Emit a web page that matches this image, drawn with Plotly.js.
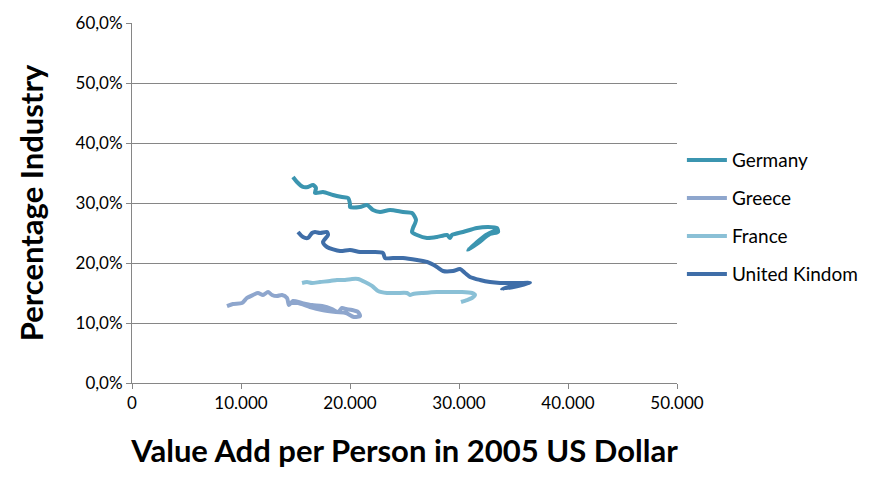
<!DOCTYPE html>
<html>
<head>
<meta charset="utf-8">
<script src="https://cdn.plot.ly/plotly-3.0.1.min.js"></script>
<style>html,body{margin:0;padding:0;background:#fff;}#chart{width:870px;height:491px;}</style>
</head>
<body>
<div id="chart"></div>
<script>
// Value added per person (2005 US$) and industry share
const germanyX = [14771,15138,15688,16147,16606,16881,16789,17523,18440,19266,19817,20000,20000,20917,21560,22110,22752,23670,24862,25688,26055,25780,25688,26147,27064,27982,28899,29174,29358,30367,31651,32661,33486,33578,32844,31743,30826,31560,32477,33394];
const germanyY = [0.3433,0.335,0.3267,0.3267,0.33,0.325,0.3167,0.3183,0.3133,0.31,0.3083,0.2983,0.2933,0.2933,0.2967,0.2883,0.285,0.2883,0.285,0.2833,0.2717,0.2583,0.2517,0.2467,0.2417,0.2433,0.2467,0.2417,0.2467,0.2517,0.2583,0.26,0.2583,0.2517,0.2483,0.2333,0.2217,0.2333,0.2467,0.255];

const greeceX = [8716,9266,10092,10550,11101,11560,12018,12477,12844,13303,13761,14220,14404,14771,15596,16514,17431,18349,18900,19266,19633,20183,20734,20917,20367,19633,18716,17431,16330,15229,14679];
const greeceY = [0.1283,0.1317,0.1333,0.1417,0.1467,0.15,0.1467,0.1517,0.1467,0.145,0.1467,0.1417,0.13,0.1367,0.1333,0.13,0.1283,0.1233,0.1183,0.125,0.1233,0.1217,0.1183,0.1117,0.11,0.1167,0.1183,0.1217,0.1267,0.1333,0.1333];

const franceX = [15596,16055,16514,17248,18165,18807,19541,20183,20734,21376,22018,22569,23394,24312,25229,25505,25780,26697,27982,29174,30275,31193,31468,31193,30734,30183];
const franceY = [0.1667,0.1683,0.1667,0.1683,0.17,0.1717,0.1717,0.1733,0.1733,0.1683,0.1617,0.1533,0.15,0.15,0.15,0.1467,0.1483,0.15,0.1517,0.1517,0.1517,0.15,0.1467,0.1417,0.1383,0.135];

const ukX = [15229,15688,16147,16514,16789,17248,17890,17982,17523,17890,19083,20000,20917,22110,23028,23211,23945,24862,26147,27064,27982,28532,29450,30092,30550,31009,31927,32844,33761,34679,35596,36514,35413,33945,34862,35963];
const ukY = [0.2517,0.2433,0.2417,0.25,0.2517,0.25,0.2517,0.2467,0.235,0.2267,0.22,0.2217,0.2183,0.2183,0.2167,0.2083,0.2083,0.2083,0.205,0.2017,0.1933,0.1867,0.1867,0.19,0.1833,0.1767,0.1717,0.1683,0.1667,0.1667,0.1667,0.1667,0.1617,0.1567,0.1617,0.165];

const seriesNames = ["Germany","Greece","France","United Kindom"];
const seriesColors = ["#3b95b0","#8ea6cd","#8ac0d6","#3f6ea8"];
const xTitle = "Value Add per Person in 2005 US Dollar";
const yTitle = "Percentage Industry";

const xs = [germanyX, greeceX, franceX, ukX];
const ys = [germanyY, greeceY, franceY, ukY];

const traces = seriesNames.map((n,i)=>({
  type:'scatter', mode:'lines', name:n, x:xs[i], y:ys[i],
  legendgroup:'g'+i,
  line:{color:seriesColors[i], width:4, shape:'spline', smoothing:0.7}
}));

const font = "Lato, 'Open Sans', sans-serif";
const layout = {
  width:870, height:491,
  margin:{l:132, r:193, t:23, b:108, pad:0, autoexpand:false},
  paper_bgcolor:'#fff', plot_bgcolor:'#fff',
  separators:',.',
  font:{family:font, size:17, color:'#000'},
  showlegend:true,
  legend:{x:1.009, xanchor:'left', y:0.672, yanchor:'top', font:{size:19, family:font}, tracegroupgap:10.3, traceorder:'grouped', itemwidth:40, bgcolor:'rgba(0,0,0,0)'},
  xaxis:{range:[0,50000], dtick:10000, tick0:0, tickformat:',d',
    showgrid:false, zeroline:false, showline:true, linecolor:'#868686', linewidth:1,
    ticks:'outside', ticklen:5, tickcolor:'#868686',
    tickfont:{size:17, family:font},
    title:{text:xTitle, font:{size:31, family:font, weight:'bold'}, standoff:27}},
  yaxis:{range:[0,0.6], dtick:0.1, tick0:0, tickformat:'.1%',
    showgrid:true, gridcolor:'#868686', gridwidth:1, zeroline:false,
    showline:true, linecolor:'#868686', linewidth:1,
    ticks:'outside', ticklen:5, tickcolor:'#868686',
    tickfont:{size:17, family:font},
    title:{text:yTitle, font:{size:31, family:font, weight:'bold'}, standoff:22}}
};

Plotly.newPlot('chart', traces, layout, {staticPlot:true, displayModeBar:false});
</script>
</body>
</html>
